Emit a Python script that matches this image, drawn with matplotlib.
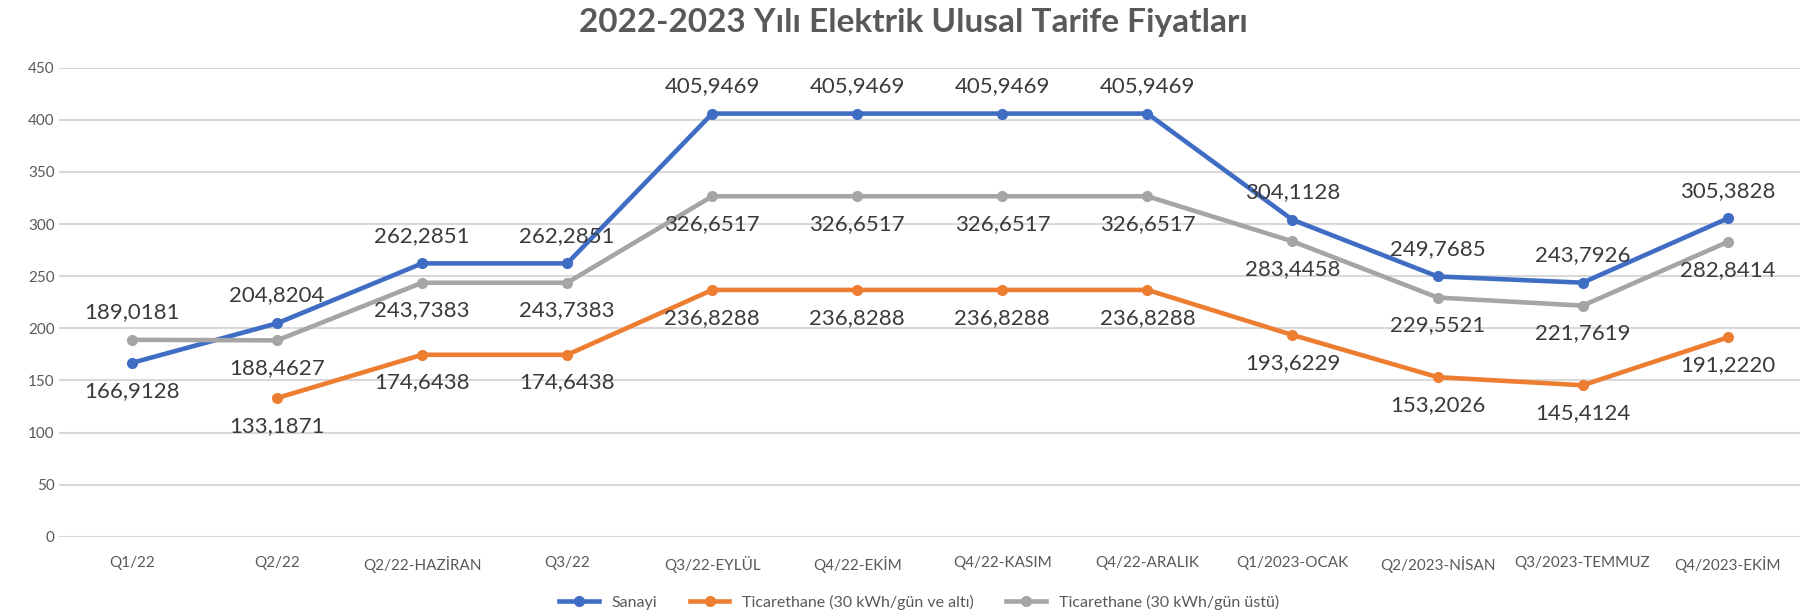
import numpy as np
import matplotlib.pyplot as plt

plt.rcParams["font.family"] = ["Lato", "DejaVu Sans"]

donemler = ["Q1/22", "Q2/22", "Q2/22-HAZİRAN", "Q3/22", "Q3/22-EYLÜL", "Q4/22-EKİM",
            "Q4/22-KASIM", "Q4/22-ARALIK", "Q1/2023-OCAK", "Q2/2023-NİSAN",
            "Q3/2023-TEMMUZ", "Q4/2023-EKİM"]

sanayi = [166.9128, 204.8204, 262.2851, 262.2851, 405.9469, 405.9469,
          405.9469, 405.9469, 304.1128, 249.7685, 243.7926, 305.3828]
ticaret_alti = [np.nan, 133.1871, 174.6438, 174.6438, 236.8288, 236.8288,
                236.8288, 236.8288, 193.6229, 153.2026, 145.4124, 191.2220]
ticaret_ustu = [189.0181, 188.4627, 243.7383, 243.7383, 326.6517, 326.6517,
                326.6517, 326.6517, 283.4458, 229.5521, 221.7619, 282.8414]

# label above (+1) or below (-1) each point
sanayi_yon = [-1, 1, 1, 1, 1, 1, 1, 1, 1, 1, 1, 1]
alti_yon = [-1] * 12
ustu_yon = [1, -1, -1, -1, -1, -1, -1, -1, -1, -1, -1, -1]

seriler = [
    ("Sanayi", sanayi, "#3F6DC4", sanayi_yon),
    ("Ticarethane (30 kWh/gün ve altı)", ticaret_alti, "#ED7D31", alti_yon),
    ("Ticarethane (30 kWh/gün üstü)", ticaret_ustu, "#A5A5A5", ustu_yon),
]

fig = plt.figure(figsize=(18.02, 6.15), dpi=100, facecolor="white")
ax = fig.add_axes([0.033, 0.127, 0.966, 0.763])

x = np.arange(len(donemler))
for ad, vals, renk, yon in seriler:
    ax.plot(x, vals, color=renk, lw=3.3, marker="o", ms=7, label=ad, zorder=3)
    for xi, v, d in zip(x, vals, yon):
        if np.isnan(v):
            continue
        ax.annotate(f"{v:.4f}".replace(".", ","), (xi, v), xytext=(0, 20 * d),
                    textcoords="offset points", ha="center", va="center",
                    fontsize=16, color="#3A3A3A", zorder=4)

ax.set_xlim(-0.5, len(donemler) - 0.5)
ax.set_ylim(0, 450)
ax.set_yticks(range(0, 451, 50))
ax.set_xticks(x)
ax.set_xticklabels(donemler)
ax.tick_params(axis="both", length=0, labelsize=11, colors="#595959")
ax.tick_params(axis="x", pad=14)
ax.grid(axis="y", color="#D9D9D9", lw=1.5)
ax.set_axisbelow(True)
for sp in ax.spines.values():
    sp.set_visible(False)

fig.text(0.507, 0.964, "2022-2023 Yılı Elektrik Ulusal Tarife Fiyatları",
         ha="center", va="center", fontsize=24, fontweight="bold", color="#595959")

fig.legend(loc="center", bbox_to_anchor=(0.51, 0.021), ncol=3, frameon=False,
           fontsize=11.5, labelcolor="#595959", handlelength=2.5, columnspacing=2)

fig.savefig("out.png", dpi=100, facecolor="white")
